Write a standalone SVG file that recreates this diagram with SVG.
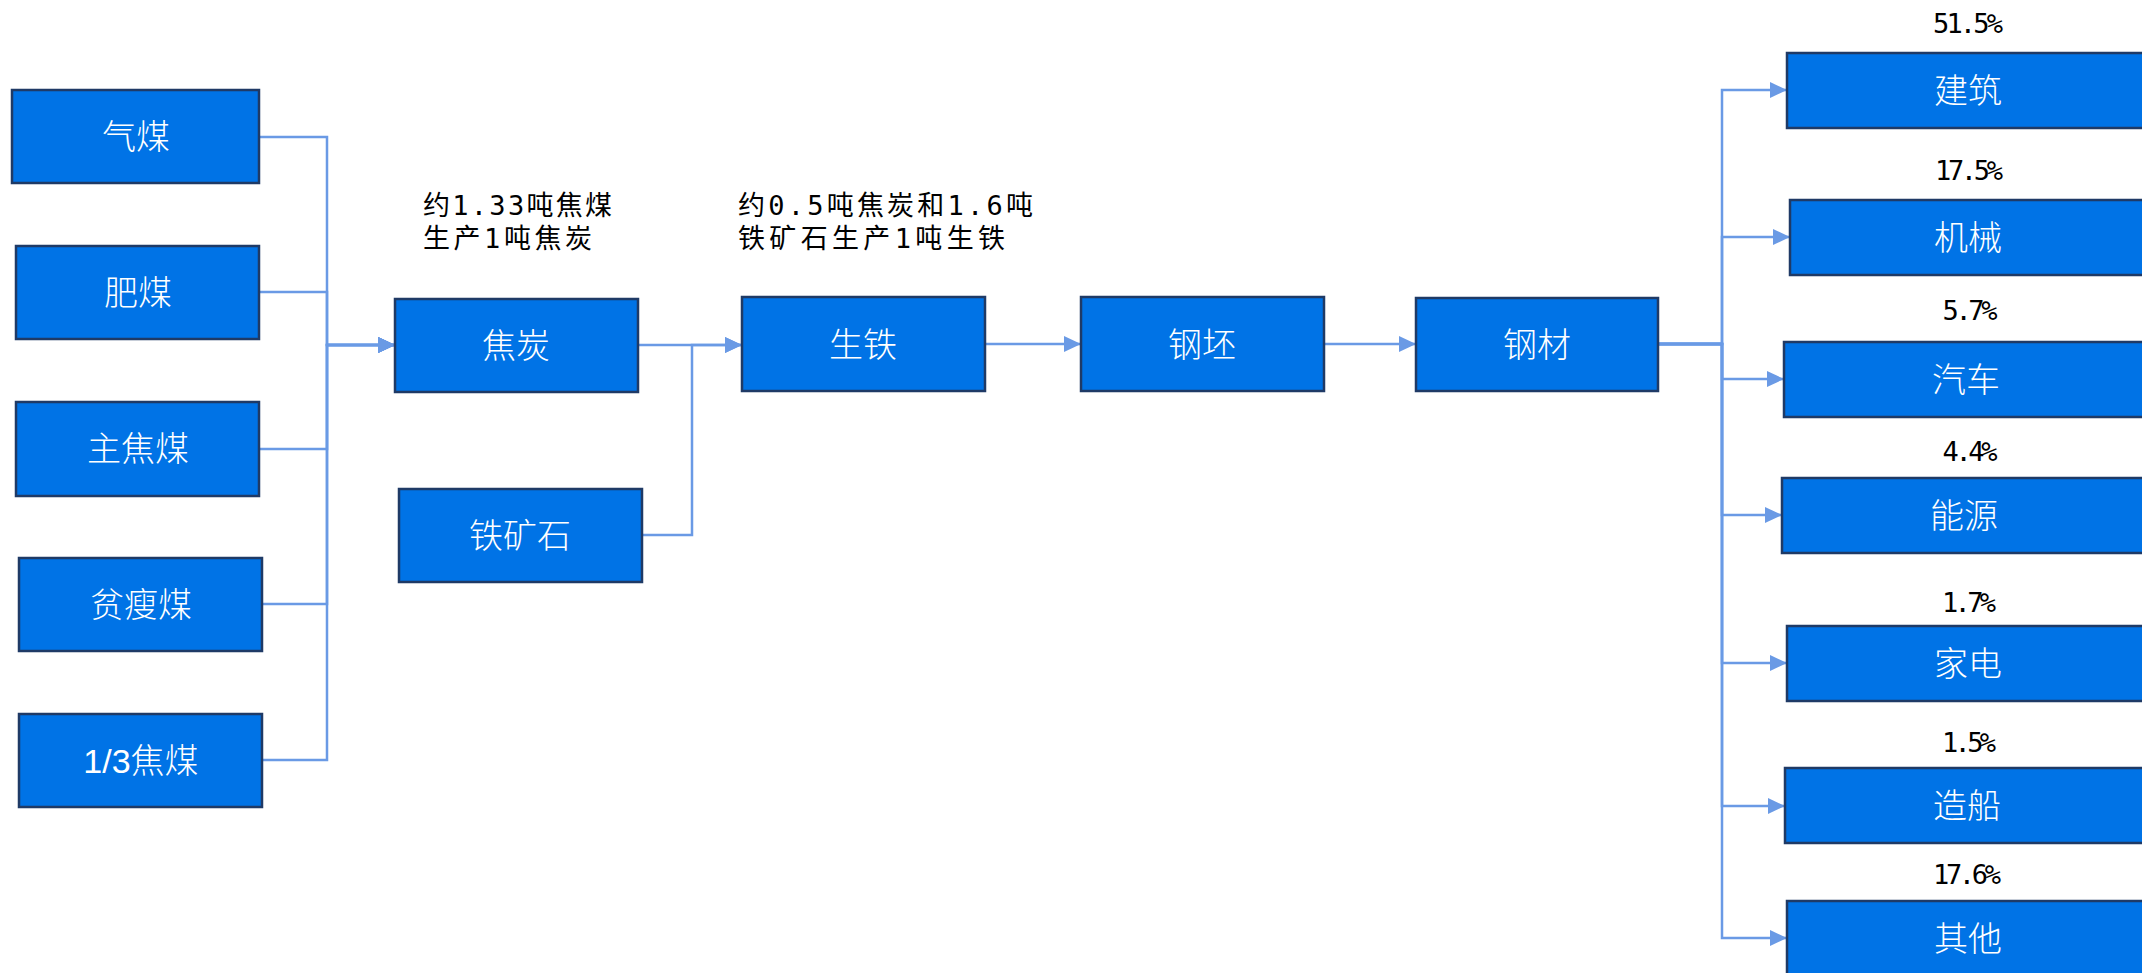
<svg xmlns="http://www.w3.org/2000/svg" width="2142" height="973" viewBox="0 0 2142 973">
<defs>
<style>
.box{fill:#0073E6;stroke:#1F3A66;stroke-width:2.5}
.lbl{fill:#ffffff;font-family:"Liberation Sans","Noto Sans CJK SC",sans-serif;font-size:34px;font-weight:300;text-anchor:middle}
.note{fill:#000000;font-family:"DejaVu Sans Mono","Noto Sans CJK SC",monospace;font-size:27px}
.pct{fill:#000000;font-family:"DejaVu Sans Mono","Noto Sans CJK SC",monospace;font-size:27px;text-anchor:middle}
.conn{fill:none;stroke:#6A9AE5;stroke-width:2.5}
</style>
<marker id="arr" markerUnits="userSpaceOnUse" markerWidth="17" markerHeight="16" refX="17" refY="8" orient="auto">
<path d="M0,0 L17,8 L0,16 Z" fill="#6A9AE5"/>
</marker>
</defs>
<rect width="2142" height="973" fill="#ffffff"/>

<g id="connectors">
<path class="conn" d="M259,137 H327 V345 H395" marker-end="url(#arr)"/>
<path class="conn" d="M259,292 H327 V345 H395" marker-end="url(#arr)"/>
<path class="conn" d="M259,449 H327 V345 H395" marker-end="url(#arr)"/>
<path class="conn" d="M262,604 H327 V345 H395" marker-end="url(#arr)"/>
<path class="conn" d="M262,760 H327 V345 H395" marker-end="url(#arr)"/>
<path class="conn" d="M638,345 H742" marker-end="url(#arr)"/>
<path class="conn" d="M642,535 H692 V345 H742" marker-end="url(#arr)"/>
<path class="conn" d="M985,344 H1081" marker-end="url(#arr)"/>
<path class="conn" d="M1324,344 H1416" marker-end="url(#arr)"/>
<path class="conn" d="M1658,344 H1722 V90 H1787" marker-end="url(#arr)"/>
<path class="conn" d="M1658,344 H1722 V237 H1790" marker-end="url(#arr)"/>
<path class="conn" d="M1658,344 H1722 V379 H1784" marker-end="url(#arr)"/>
<path class="conn" d="M1658,344 H1722 V515 H1782" marker-end="url(#arr)"/>
<path class="conn" d="M1658,344 H1722 V663 H1787" marker-end="url(#arr)"/>
<path class="conn" d="M1658,344 H1722 V806 H1785" marker-end="url(#arr)"/>
<path class="conn" d="M1658,344 H1722 V938 H1787" marker-end="url(#arr)"/>
</g>

<g id="n-qimei"><rect class="box" x="12" y="90" width="247" height="93"/><text class="lbl" x="136" y="149">气煤</text></g>
<g id="n-feimei"><rect class="box" x="16" y="246" width="243" height="93"/><text class="lbl" x="138" y="305">肥煤</text></g>
<g id="n-zhujiaomei"><rect class="box" x="16" y="402" width="243" height="94"/><text class="lbl" x="138" y="461">主焦煤</text></g>
<g id="n-pinshoumei"><rect class="box" x="19" y="558" width="243" height="93"/><text class="lbl" x="141" y="617">贫瘦煤</text></g>
<g id="n-13jiaomei"><rect class="box" x="19" y="714" width="243" height="93"/><text class="lbl" x="141" y="773">1/3焦煤</text></g>

<g id="n-jiaotan"><rect class="box" x="395" y="299" width="243" height="93"/><text class="lbl" x="516" y="358">焦炭</text></g>
<g id="n-tiekuangshi"><rect class="box" x="399" y="489" width="243" height="93"/><text class="lbl" x="520" y="548">铁矿石</text></g>
<g id="n-shengtie"><rect class="box" x="742" y="297" width="243" height="94"/><text class="lbl" x="863" y="357">生铁</text></g>
<g id="n-gangpi"><rect class="box" x="1081" y="297" width="243" height="94"/><text class="lbl" x="1202" y="357">钢坯</text></g>
<g id="n-gangcai"><rect class="box" x="1416" y="298" width="242" height="93"/><text class="lbl" x="1537" y="357">钢材</text></g>

<g id="note-1">
<text class="note" x="423" y="215" textLength="189" lengthAdjust="spacing">约1.33吨焦煤</text>
<text class="note" x="423" y="248" textLength="169" lengthAdjust="spacing">生产1吨焦炭</text>
</g>
<g id="note-2">
<text class="note" x="738" y="215" textLength="295" lengthAdjust="spacing">约0.5吨焦炭和1.6吨</text>
<text class="note" x="738" y="248" textLength="267" lengthAdjust="spacing">铁矿石生产1吨生铁</text>
</g>

<g id="n-jianzhu"><text class="pct" x="1968" y="33" textLength="70" lengthAdjust="spacing">51.5%</text><rect class="box" x="1787" y="53" width="380" height="75"/><text class="lbl" x="1968" y="103">建筑</text></g>
<g id="n-jixie"><text class="pct" x="1969" y="180" textLength="68" lengthAdjust="spacing">17.5%</text><rect class="box" x="1790" y="200" width="380" height="75"/><text class="lbl" x="1968" y="250">机械</text></g>
<g id="n-qiche"><text class="pct" x="1970" y="320" textLength="55" lengthAdjust="spacing">5.7%</text><rect class="box" x="1784" y="342" width="380" height="75"/><text class="lbl" x="1966" y="392">汽车</text></g>
<g id="n-nengyuan"><text class="pct" x="1970" y="461" textLength="55" lengthAdjust="spacing">4.4%</text><rect class="box" x="1782" y="478" width="380" height="75"/><text class="lbl" x="1964" y="528">能源</text></g>
<g id="n-jiadian"><text class="pct" x="1969" y="612" textLength="54" lengthAdjust="spacing">1.7%</text><rect class="box" x="1787" y="626" width="380" height="75"/><text class="lbl" x="1968" y="676">家电</text></g>
<g id="n-zaochuan"><text class="pct" x="1969" y="752" textLength="54" lengthAdjust="spacing">1.5%</text><rect class="box" x="1785" y="768" width="380" height="75"/><text class="lbl" x="1967" y="818">造船</text></g>
<g id="n-qita"><text class="pct" x="1967" y="884" textLength="68" lengthAdjust="spacing">17.6%</text><rect class="box" x="1787" y="901" width="380" height="75"/><text class="lbl" x="1968" y="951">其他</text></g>
</svg>
